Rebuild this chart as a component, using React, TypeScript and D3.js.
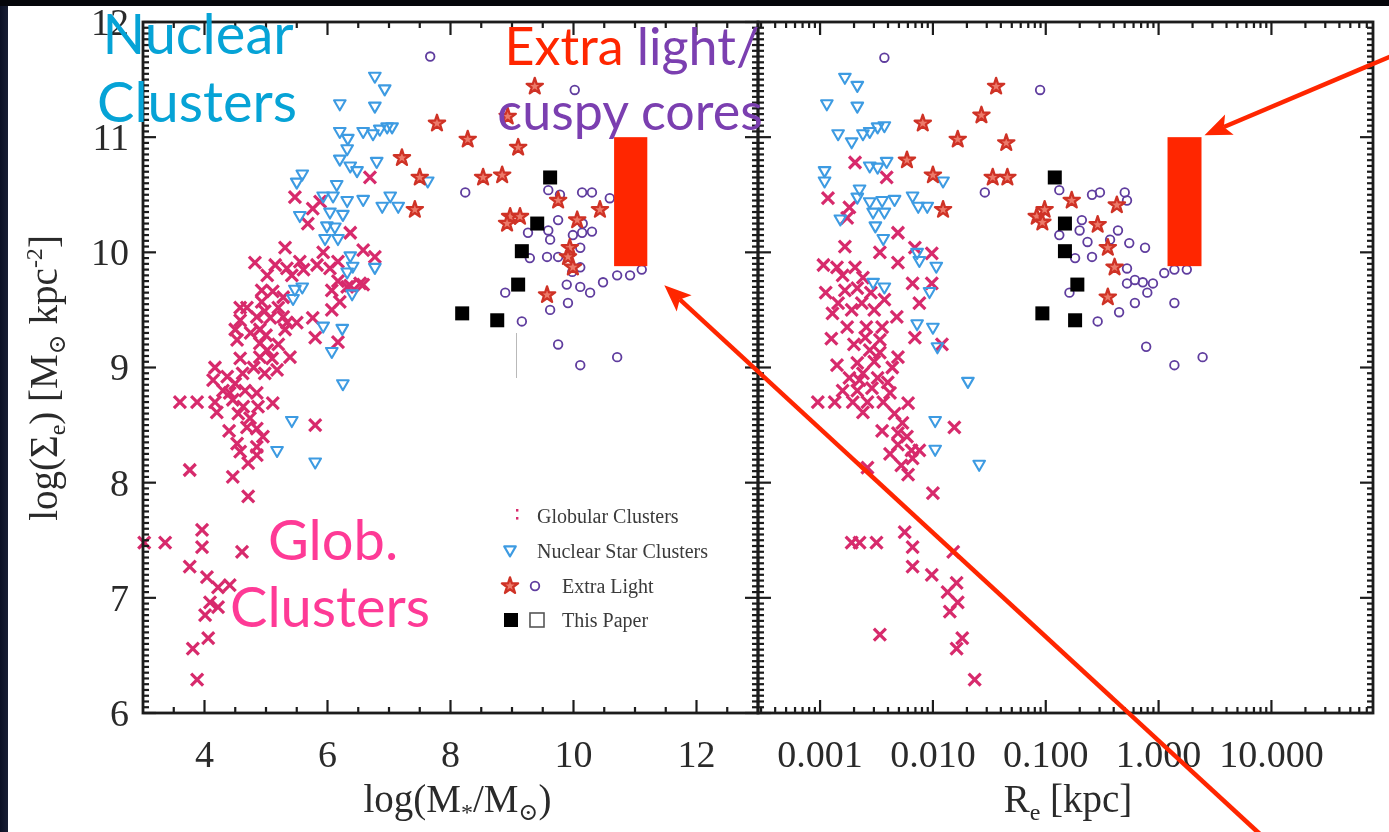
import React from "react";
import * as d3 from "d3";

type Pt = [number, number];

// ---------- data ----------
// Left panel: [log(M*/Msun), log(Sigma_e)]
const gcMass: Pt[] = [
  [3.02, 7.48], [3.36, 7.48], [3.76, 8.11], [3.96, 7.59], [3.96, 7.44], [4.61, 7.40], [3.76, 7.27], [4.04, 7.18],
  [4.22, 7.09], [4.41, 7.11], [4.09, 6.96], [4.22, 6.92], [4.01, 6.85], [4.06, 6.65], [3.81, 6.56], [3.88, 6.29],
  [4.46, 8.05], [4.71, 7.88], [3.60, 8.70], [3.88, 8.70], [4.17, 8.70], [4.20, 8.61], [4.46, 8.72], [4.63, 8.66],
  [4.87, 8.66], [5.11, 8.69], [4.74, 8.56], [4.69, 8.48], [4.85, 8.47], [5.80, 8.50], [4.53, 8.34], [4.58, 8.27],
  [4.85, 8.31], [4.85, 8.24], [4.71, 8.17], [4.17, 9.00], [4.37, 8.92], [4.14, 8.89], [4.50, 8.86], [4.66, 8.80],
  [4.41, 8.78], [4.85, 8.78], [4.58, 9.08], [4.90, 9.09], [5.10, 9.08], [5.18, 8.98], [5.39, 9.09], [5.02, 9.15],
  [4.90, 9.21], [4.90, 9.33], [4.50, 9.33], [4.53, 9.24], [5.31, 9.33], [4.58, 9.41], [4.85, 9.44], [5.07, 9.43],
  [5.28, 9.44], [5.50, 9.39], [4.69, 9.52], [4.93, 9.57], [5.11, 9.66], [5.28, 9.61], [4.82, 9.91], [5.31, 10.04],
  [5.15, 9.89], [5.34, 9.86], [5.02, 9.80], [5.93, 10.00], [6.37, 10.17], [6.58, 10.02], [5.83, 9.89], [6.04, 9.86],
  [6.17, 9.92], [6.53, 9.73], [6.07, 9.67], [6.20, 9.57], [6.07, 9.50], [5.76, 9.43], [5.80, 9.26], [6.17, 9.22],
  [6.69, 10.65], [5.47, 10.48], [5.76, 10.38], [5.88, 10.44], [5.68, 10.25], [6.77, 9.96], [6.32, 9.70], [6.58, 9.72],
  [5.34, 9.39], [4.93, 9.67], [5.42, 9.80], [5.55, 9.92], [4.58, 9.52], [5.61, 9.85], [6.17, 9.75], [6.37, 9.71],
  [4.98, 9.49], [5.20, 9.52], [4.75, 9.30], [5.00, 9.28], [5.20, 9.20], [4.80, 9.00], [4.98, 8.95], [4.30, 8.80],
  [4.55, 8.60], [4.40, 8.45], [4.95, 8.40], [4.62, 8.95],
];
const nscMass: Pt[] = [
  [6.77, 11.52], [6.93, 11.41], [6.20, 11.28], [6.77, 11.26], [6.20, 11.04], [6.33, 10.98], [6.58, 11.04], [6.74, 11.02],
  [6.85, 11.06], [6.97, 11.08], [7.05, 11.08], [6.32, 10.89], [6.20, 10.80], [6.37, 10.74], [6.48, 10.70], [6.80, 10.78],
  [5.59, 10.67], [5.50, 10.60], [7.63, 10.61], [6.15, 10.58], [6.09, 10.48], [5.93, 10.48], [6.32, 10.44], [6.58, 10.45],
  [6.89, 10.39], [7.02, 10.48], [7.15, 10.39], [5.55, 10.31], [6.04, 10.34], [6.25, 10.32], [5.99, 10.22], [5.96, 10.11],
  [6.17, 10.11], [6.37, 9.96], [6.41, 9.87], [6.77, 9.86], [6.32, 9.82], [5.47, 9.67], [5.59, 9.69], [6.40, 9.63],
  [5.93, 9.35], [6.24, 9.33], [6.07, 9.13], [6.25, 8.85], [5.42, 8.53], [5.18, 8.27], [5.80, 8.17], [6.12, 10.21],
  [5.44, 9.59],
];
const xlStarMass: Pt[] = [
  [7.21, 10.82], [7.50, 10.65], [7.42, 10.37], [7.78, 11.12], [8.28, 10.98], [8.53, 10.65], [8.84, 10.67], [9.10, 10.91],
  [9.37, 11.44], [8.93, 11.18], [8.97, 10.31], [9.13, 10.31], [8.92, 10.25], [9.75, 10.45], [10.06, 10.28], [10.43, 10.37],
  [9.94, 10.04], [9.91, 9.96], [9.99, 9.87], [9.57, 9.63],
];
const xlCoreMass: Pt[] = [
  [7.67, 11.70], [8.24, 10.52], [10.02, 11.41], [9.59, 10.54], [9.78, 10.50], [10.14, 10.52], [10.30, 10.52], [10.59, 10.47],
  [9.75, 10.28], [9.59, 10.19], [9.26, 10.17], [9.62, 10.11], [9.57, 9.96], [9.29, 9.95], [9.75, 9.96], [9.99, 10.15],
  [10.14, 10.17], [10.30, 10.18], [10.11, 10.04], [10.11, 9.87], [9.98, 9.83], [9.89, 9.72], [10.11, 9.70], [10.27, 9.65],
  [10.48, 9.74], [10.71, 9.80], [10.92, 9.80], [11.11, 9.85], [8.89, 9.65], [9.62, 9.50], [9.91, 9.56], [9.16, 9.40],
  [9.75, 9.20], [10.11, 9.02], [10.71, 9.09], [10.15, 10.25],
];

// Right panel: [log10(Re / kpc), log(Sigma_e)]
const gcSize: Pt[] = [
  [-2.69, 10.78], [-2.41, 10.65], [-2.93, 10.47], [-2.74, 10.39], [-2.76, 10.30], [-2.31, 10.17], [-2.78, 10.05], [-2.97, 9.89],
  [-2.85, 9.87], [-2.69, 9.87], [-2.47, 10.00], [-2.31, 9.91], [-2.16, 10.04], [-2.01, 9.99], [-2.18, 9.73], [-2.01, 9.73],
  [-2.12, 9.56], [-2.16, 9.26], [-1.92, 9.20], [-2.67, 9.69], [-2.84, 9.56], [-2.89, 9.47], [-2.72, 9.50], [-2.63, 9.56],
  [-2.76, 9.35], [-2.59, 9.35], [-2.45, 9.35], [-2.32, 9.44], [-2.47, 9.24], [-2.60, 9.26], [-2.56, 9.15], [-2.47, 9.13],
  [-2.31, 9.09], [-2.36, 9.00], [-2.85, 9.02], [-2.67, 9.04], [-2.74, 8.91], [-2.67, 8.80], [-2.54, 8.82], [-2.38, 8.78],
  [-3.02, 8.70], [-2.87, 8.70], [-2.71, 8.70], [-2.58, 8.70], [-2.44, 8.70], [-2.22, 8.69], [-2.34, 8.60], [-2.27, 8.52],
  [-2.31, 8.43], [-2.23, 8.40], [-2.31, 8.33], [-2.19, 8.28], [-2.12, 8.28], [-2.18, 8.21], [-2.58, 8.13], [-2.22, 8.07],
  [-2.00, 7.91], [-1.81, 8.48], [-2.62, 8.61], [-2.25, 7.57], [-2.18, 7.44], [-2.18, 7.27], [-2.01, 7.20], [-2.72, 7.48],
  [-2.65, 7.48], [-2.50, 7.48], [-1.82, 7.40], [-1.79, 7.13], [-1.87, 7.05], [-1.78, 6.96], [-1.85, 6.88], [-2.47, 6.68],
  [-1.74, 6.65], [-1.79, 6.56], [-1.63, 6.29], [-2.78, 9.67], [-2.52, 9.50], [-2.43, 9.59], [-2.65, 8.89], [-2.49, 8.91],
  [-2.80, 9.80], [-2.62, 9.78], [-2.55, 9.65], [-2.70, 9.20], [-2.52, 9.05], [-2.62, 8.95], [-2.40, 8.87], [-2.80, 8.80],
  [-2.45, 8.45], [-2.38, 8.25], [-2.28, 8.15], [-2.90, 9.25], [-2.95, 9.65],
];
const nscSize: Pt[] = [
  [-2.78, 11.51], [-2.67, 11.44], [-2.94, 11.28], [-2.67, 11.26], [-2.84, 11.02], [-2.72, 10.95], [-2.62, 11.02], [-2.56, 11.04],
  [-2.49, 11.08], [-2.43, 11.09], [-2.56, 10.74], [-2.49, 10.73], [-2.41, 10.78], [-2.96, 10.70], [-2.96, 10.61], [-2.65, 10.54],
  [-2.67, 10.47], [-2.56, 10.43], [-2.45, 10.44], [-2.34, 10.45], [-2.18, 10.48], [-2.13, 10.39], [-2.05, 10.39], [-1.91, 10.61],
  [-2.53, 10.34], [-2.43, 10.34], [-2.82, 10.28], [-2.51, 10.22], [-2.44, 10.11], [-2.14, 9.99], [-2.12, 9.92], [-1.97, 9.87],
  [-2.53, 9.73], [-2.03, 9.65], [-2.43, 9.69], [-2.14, 9.37], [-2.00, 9.34], [-1.96, 9.17], [-1.69, 8.87], [-1.98, 8.53],
  [-1.98, 8.28], [-1.59, 8.15],
];
const xlStarSize: Pt[] = [
  [-1.44, 11.44], [-1.57, 11.19], [-2.09, 11.12], [-1.78, 10.98], [-1.35, 10.95], [-2.23, 10.80], [-2.00, 10.67], [-1.47, 10.65],
  [-1.34, 10.65], [-1.91, 10.37], [-1.08, 10.31], [-1.01, 10.37], [-1.03, 10.26], [-0.77, 10.45], [-0.37, 10.41], [-0.54, 10.24],
  [-0.45, 10.04], [-0.39, 9.87], [-0.45, 9.61],
];
const xlCoreSize: Pt[] = [
  [-2.43, 11.69], [-1.05, 11.41], [-1.54, 10.52], [-0.88, 10.54], [-0.59, 10.50], [-0.52, 10.52], [-0.30, 10.52], [-0.28, 10.45],
  [-0.68, 10.28], [-0.70, 10.19], [-0.88, 10.15], [-0.63, 10.09], [-0.36, 10.19], [-0.26, 10.08], [-0.12, 10.04], [-0.74, 9.95],
  [-0.59, 9.96], [-0.43, 10.11], [-0.28, 9.86], [-0.28, 9.73], [-0.21, 9.76], [-0.14, 9.74], [-0.05, 9.73], [-0.10, 9.65],
  [0.05, 9.82], [0.14, 9.85], [0.25, 9.85], [-0.79, 9.65], [-0.35, 9.48], [-0.21, 9.56], [-0.54, 9.40], [0.14, 9.56],
  [-0.11, 9.18], [0.14, 9.02], [0.39, 9.09],
];

// This Paper: same six objects in both panels
const paperSigma = [10.65, 10.25, 10.01, 9.72, 9.47, 9.41];
const paperLogM = [9.62, 9.41, 9.16, 9.10, 8.19, 8.76];
const paperLogRe = [-0.92, -0.83, -0.83, -0.72, -1.03, -0.74];

// Highlighted region (red bars)
const barSigma = [9.88, 11.0];
const barMass = [10.66, 11.2];
const barSize = [1.2, 2.4];

// Axes
const sigmaDomain = [6, 12];
const massDomain = [3, 13];
const sizeDomain = [Math.pow(10, -3.55), Math.pow(10, 1.9)];
const sigmaTicks = [6, 7, 8, 9, 10, 11, 12];
const massTicks = [4, 6, 8, 10, 12];
const sizeTicks = [0.001, 0.01, 0.1, 1, 10];
const sizeTickLabels = ["0.001", "0.010", "0.100", "1.000", "10.000"];
const legendLabels = ["Globular Clusters", "Nuclear Star Clusters", "Extra Light", "This Paper"];

// ---------- layout ----------
const W = 1389;
const H = 832;
const TOP = 22;
const BOTTOM = 713;
const LEFT = 143;
const MID = 758;
const RIGHT = 1373;

const yS = d3.scaleLinear().domain(sigmaDomain).range([BOTTOM, TOP]);
const xM = d3.scaleLinear().domain(massDomain).range([LEFT, MID]);
const xR = d3.scaleLog().domain(sizeDomain).range([MID, RIGHT]);
const xRe = (lg: number) => xR(Math.pow(10, lg));

const SERIF = "'Liberation Serif','Times New Roman',Times,'DejaVu Serif',serif";
const SANS = "Lato,'Open Sans','Noto Sans',sans-serif";
const C = {
  gc: "#d72b6c",
  nsc: "#3d9be2",
  star: "#cf3326",
  starFill: "#ec7a6a",
  core: "#5f3c9e",
  axis: "#1c1c1c",
  text: "#2b2b2b",
  red: "#ff2600",
  cyan: "#06a3d6",
  purple: "#7b3fb0",
  pink: "#fe3a96",
};

const starD = d3.symbol(d3.symbolStar, 82)() as string;
const crossD = "M-6,-6L6,6M-6,6L6,-6";
const triD = "M-5.8,-4.6L5.8,-4.6L0,5.4Z";

const Cross = ({ x, y }: { x: number; y: number }) => (
  <path d={crossD} transform={`translate(${x},${y})`} stroke={C.gc} strokeWidth={3.2} fill="none" />
);
const Tri = ({ x, y }: { x: number; y: number }) => (
  <path d={triD} transform={`translate(${x},${y})`} stroke={C.nsc} strokeWidth={2.1} fill="none" strokeLinejoin="round" />
);
const Star = ({ x, y }: { x: number; y: number }) => (
  <path d={starD} transform={`translate(${x},${y})`} stroke={C.star} strokeWidth={2.3} fill={C.starFill} strokeLinejoin="round" />
);
const Core = ({ x, y }: { x: number; y: number }) => (
  <circle cx={x} cy={y} r={4.3} stroke={C.core} strokeWidth={1.8} fill="none" />
);
const Sq = ({ x, y, open }: { x: number; y: number; open?: boolean }) => (
  <rect x={x - 7} y={y - 7} width={14} height={14} fill={open ? "none" : "#000"} stroke={open ? "#555" : "none"} strokeWidth={1.6} />
);

// tick values
const massMinor = d3.range(3.5, 13, 0.5).filter((v) => !massTicks.includes(v));
const sigmaMinor = d3.range(1, 120).map((i) => 6 + i * 0.05).filter((v) => Math.abs(v - Math.round(v)) > 1e-6);
const sizeMinor: number[] = [];
for (let d = -4; d <= 1; d++) {
  for (let k = 2; k <= 9; k++) {
    const v = k * Math.pow(10, d);
    if (v > sizeDomain[0] && v < sizeDomain[1]) sizeMinor.push(v);
  }
}

function xTickLines(vals: number[], sx: (v: number) => number, len: number, key: string) {
  return vals.flatMap((v, i) => {
    const x = sx(v);
    return [
      <line key={`${key}b${i}`} x1={x} x2={x} y1={BOTTOM} y2={BOTTOM - len} />,
      <line key={`${key}t${i}`} x1={x} x2={x} y1={TOP} y2={TOP + len} />,
    ];
  });
}
function yTickLines(x: number, dir: number, vals: number[], len: number, key: string) {
  return vals.map((v, i) => <line key={`${key}${i}`} x1={x} x2={x + dir * len} y1={yS(v)} y2={yS(v)} />);
}

function Arrow({ from, to }: { from: Pt; to: Pt }) {
  const dx = to[0] - from[0];
  const dy = to[1] - from[1];
  const L = Math.hypot(dx, dy);
  const ux = dx / L;
  const uy = dy / L;
  const nx = -uy;
  const ny = ux;
  const head = 27;
  const half = 11;
  const notch = 6;
  const bx = to[0] - ux * head;
  const by = to[1] - uy * head;
  const ix = to[0] - ux * (head - notch);
  const iy = to[1] - uy * (head - notch);
  const pts = [
    [to[0], to[1]],
    [bx + nx * half, by + ny * half],
    [ix, iy],
    [bx - nx * half, by - ny * half],
  ]
    .map((p) => p.join(","))
    .join(" ");
  return (
    <g>
      <line x1={from[0]} y1={from[1]} x2={ix} y2={iy} stroke={C.red} strokeWidth={4.5} />
      <polygon points={pts} fill={C.red} />
    </g>
  );
}

export default function App() {
  const leftBarCorner: Pt = [xM(barMass[1]), yS(barSigma[0])];
  const rightBarCorner: Pt = [xR(barSize[1]), yS(barSigma[1])];

  const legendY = [516, 551, 586, 620];

  return (
    <svg
      width={W}
      height={H}
      viewBox={`0 0 ${W} ${H}`}
      style={{ position: "absolute", left: 0, top: 0, display: "block" }}
    >
      <defs>
        <filter id="soft" x="-5%" y="-5%" width="110%" height="110%">
          <feGaussianBlur stdDeviation={0.5} />
        </filter>
        <linearGradient id="edge" x1="0" x2="1" y1="0" y2="0">
          <stop offset="0" stopColor="#0b1024" />
          <stop offset="1" stopColor="#1a2036" />
        </linearGradient>
      </defs>

      {/* slide background and pasted figure */}
      <rect x={0} y={0} width={W} height={H} fill="#05060b" />
      <rect x={0} y={6} width={9} height={H - 6} fill="url(#edge)" />
      <rect x={8} y={6} width={W - 8} height={H - 6} fill="#ffffff" />

      <g filter="url(#soft)">
        {/* data points, left panel */}
        {gcMass.map((d, i) => <Cross key={`gl${i}`} x={xM(d[0])} y={yS(d[1])} />)}
        {nscMass.map((d, i) => <Tri key={`nl${i}`} x={xM(d[0])} y={yS(d[1])} />)}
        {xlCoreMass.map((d, i) => <Core key={`cl${i}`} x={xM(d[0])} y={yS(d[1])} />)}
        {xlStarMass.map((d, i) => <Star key={`sl${i}`} x={xM(d[0])} y={yS(d[1])} />)}
        {paperLogM.map((m, i) => <Sq key={`pl${i}`} x={xM(m)} y={yS(paperSigma[i])} />)}

        {/* data points, right panel */}
        {gcSize.map((d, i) => <Cross key={`gr${i}`} x={xRe(d[0])} y={yS(d[1])} />)}
        {nscSize.map((d, i) => <Tri key={`nr${i}`} x={xRe(d[0])} y={yS(d[1])} />)}
        {xlCoreSize.map((d, i) => <Core key={`cr${i}`} x={xRe(d[0])} y={yS(d[1])} />)}
        {xlStarSize.map((d, i) => <Star key={`sr${i}`} x={xRe(d[0])} y={yS(d[1])} />)}
        {paperLogRe.map((r, i) => <Sq key={`pr${i}`} x={xRe(r)} y={yS(paperSigma[i])} />)}

        {/* faint seam in the left panel */}
        <line x1={516.5} x2={516.5} y1={333} y2={378} stroke="#b9b9b9" strokeWidth={1} />

        {/* frames and ticks */}
        <g stroke={C.axis} strokeWidth={2.2} fill="none">
          {xTickLines(massTicks, xM, 13, "mM")}
          {xTickLines(massMinor, xM, 6, "mm")}
          {xTickLines(sizeTicks, xR, 13, "sM")}
          {xTickLines(sizeMinor, xR, 6, "sm")}
          {yTickLines(LEFT, 1, sigmaTicks, 13, "lM")}
          {yTickLines(LEFT, 1, sigmaMinor, 6, "lm")}
          {yTickLines(MID, -1, sigmaTicks, 13, "m1M")}
          {yTickLines(MID, -1, sigmaMinor, 6, "m1m")}
          {yTickLines(MID, 1, sigmaTicks, 13, "m2M")}
          {yTickLines(MID, 1, sigmaMinor, 6, "m2m")}
          {yTickLines(RIGHT, -1, sigmaTicks, 13, "rM")}
          {yTickLines(RIGHT, -1, sigmaMinor, 6, "rm")}
        </g>
        <g stroke={C.axis} strokeWidth={2.8} fill="none">
          <rect x={LEFT} y={TOP} width={MID - LEFT} height={BOTTOM - TOP} />
          <rect x={MID} y={TOP} width={RIGHT - MID} height={BOTTOM - TOP} />
        </g>

        {/* tick labels */}
        <g fontFamily={SERIF} fontSize={38} fill={C.text}>
          {sigmaTicks.map((v) => (
            <text key={`yl${v}`} x={129} y={yS(v)} dy="0.34em" textAnchor="end">
              {v}
            </text>
          ))}
          {massTicks.map((v) => (
            <text key={`xl${v}`} x={xM(v)} y={767} textAnchor="middle">
              {v}
            </text>
          ))}
          {sizeTicks.map((v, i) => (
            <text key={`xr${i}`} x={xR(v)} y={767} textAnchor="middle">
              {sizeTickLabels[i]}
            </text>
          ))}
        </g>

        {/* axis titles */}
        <g fontFamily={SERIF} fill={C.text} fontSize={39}>
          <text x={(LEFT + MID) / 2 + 7} y={812} textAnchor="middle">
            log(M<tspan fontSize={24} dy={8}>*</tspan>
            <tspan dy={-8}>/M</tspan>
            <tspan fontSize={24} dy={8}>⊙</tspan>
            <tspan dy={-8}>)</tspan>
          </text>
          <text x={1068} y={812} textAnchor="middle">
            R<tspan fontSize={24} dy={8}>e</tspan>
            <tspan dy={-8}> [kpc]</tspan>
          </text>
          <text transform="translate(57,378) rotate(-90)" textAnchor="middle">
            log(Σ<tspan fontSize={24} dy={8}>e</tspan>
            <tspan dy={-8}>) [M</tspan>
            <tspan fontSize={24} dy={8}>⊙</tspan>
            <tspan dy={-8}> kpc</tspan>
            <tspan fontSize={24} dy={-15}>-2</tspan>
            <tspan dy={15}>]</tspan>
          </text>
        </g>

        {/* legend */}
        <g fontFamily={SERIF} fontSize={20} fill="#3a3a3a">
          <rect x={516} y={legendY[0] - 7} width={2.4} height={2.6} fill={C.gc} />
          <rect x={516} y={legendY[0] + 1} width={2.4} height={2.6} fill={C.gc} />
          <Tri x={510} y={legendY[1]} />
          <Star x={510} y={legendY[2]} />
          <Core x={535} y={legendY[2]} />
          <Sq x={511} y={legendY[3]} />
          <Sq x={537} y={legendY[3]} open />
          <text x={537} y={legendY[0] + 7}>{legendLabels[0]}</text>
          <text x={537} y={legendY[1] + 7}>{legendLabels[1]}</text>
          <text x={562} y={legendY[2] + 7}>{legendLabels[2]}</text>
          <text x={562} y={legendY[3] + 7}>{legendLabels[3]}</text>
        </g>
      </g>

      {/* highlighted region */}
      <rect
        x={xM(barMass[0])}
        y={yS(barSigma[1])}
        width={xM(barMass[1]) - xM(barMass[0])}
        height={yS(barSigma[0]) - yS(barSigma[1])}
        fill={C.red}
      />
      <rect
        x={xR(barSize[0])}
        y={yS(barSigma[1])}
        width={xR(barSize[1]) - xR(barSize[0])}
        height={yS(barSigma[0]) - yS(barSigma[1])}
        fill={C.red}
      />

      {/* annotation labels */}
      <g fontFamily={SANS} fontSize={56}>
        <text x={198} y={54} textAnchor="middle" fill={C.cyan}>Nuclear</text>
        <text x={197} y={122} textAnchor="middle" fill={C.cyan}>Clusters</text>
        <text x={632} y={65} textAnchor="middle" fontSize={52}>
          <tspan fill={C.red}>Extra</tspan>
          <tspan fill={C.purple}> light/</tspan>
        </text>
        <text x={630} y={130} textAnchor="middle" fontSize={52} fill={C.purple}>cuspy cores</text>
        <text x={333} y={560} textAnchor="middle" fill={C.pink}>Glob.</text>
        <text x={330} y={627} textAnchor="middle" fill={C.pink}>Clusters</text>
      </g>

      {/* arrows */}
      <Arrow from={[1420, 44]} to={[rightBarCorner[0] + 3, rightBarCorner[1] - 2]} />
      <Arrow from={[1262, 836]} to={[leftBarCorner[0] + 17, leftBarCorner[1] + 19]} />
    </svg>
  );
}
